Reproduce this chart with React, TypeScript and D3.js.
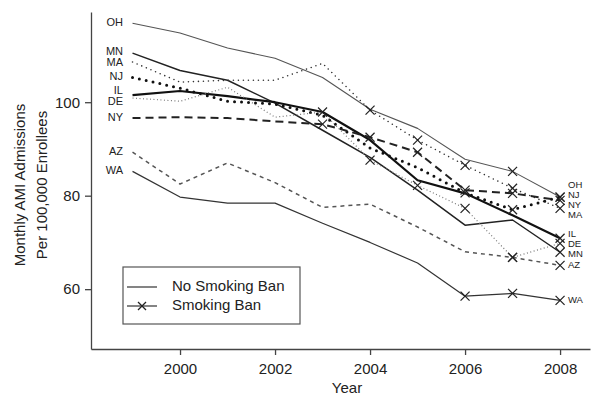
import React, { useEffect, useRef } from "react";
import * as d3 from "d3";

const width = 594;
const height = 397;
const margin = { top: 12, right: 4, bottom: 48, left: 91 };

const years = [1999, 2000, 2001, 2002, 2003, 2004, 2005, 2006, 2007, 2008];
const xTicks = [2000, 2002, 2004, 2006, 2008];
const yTicks = [60, 80, 100];

// monthly AMI admissions per 100,000 enrollees, one array per state
const OH = [116.9, 114.8, 111.6, 109.4, 105.3, 98.5, 94.4, 87.8, 85.2, 79.7];
const MN = [110.5, 106.8, 104.7, 99.8, 94.0, 88.2, 81.2, 73.7, 74.8, 67.9];
const MA = [108.6, 104.3, 104.7, 104.7, 108.3, 98.3, 91.9, 86.5, 81.6, 77.3];
const NJ = [105.3, 103.0, 100.2, 99.6, 97.2, 90.2, 86.0, 80.6, 77.0, 79.7];
const IL = [101.5, 102.4, 101.3, 100.0, 97.9, 91.9, 83.3, 80.5, 75.8, 70.9];
const DE = [100.9, 100.2, 103.2, 96.8, 97.9, 87.6, 82.2, 77.3, 66.8, 69.8];
const NY = [96.6, 96.8, 96.6, 95.9, 95.3, 92.5, 89.3, 81.2, 80.5, 79.0];
const AZ = [89.3, 82.5, 87.0, 82.8, 77.5, 78.2, 73.3, 68.0, 66.8, 65.1];
const WA = [85.2, 79.7, 78.4, 78.4, 74.1, 70.0, 65.6, 58.5, 59.1, 57.6];

// first year with a smoking ban in effect
const banYear = { OH: 2007, MN: 2008, MA: 2004, NJ: 2006, IL: 2008, DE: 2003, NY: 2003, AZ: 2007, WA: 2006 };

const series = [
  { name: "OH", values: OH, stroke: "#555", width: 1.1, dash: null, cap: "butt" },
  { name: "MN", values: MN, stroke: "#222", width: 1.5, dash: null, cap: "butt" },
  { name: "MA", values: MA, stroke: "#333", width: 1.6, dash: "0 5", cap: "round" },
  { name: "NJ", values: NJ, stroke: "#111", width: 3, dash: "0 7", cap: "round" },
  { name: "IL", values: IL, stroke: "#111", width: 2.2, dash: null, cap: "butt" },
  { name: "DE", values: DE, stroke: "#777", width: 1.2, dash: "1 2.5", cap: "butt" },
  { name: "NY", values: NY, stroke: "#222", width: 2, dash: "8 5", cap: "butt" },
  { name: "AZ", values: AZ, stroke: "#555", width: 1.5, dash: "4 4", cap: "butt" },
  { name: "WA", values: WA, stroke: "#333", width: 1.2, dash: null, cap: "butt" },
];

const x = d3
  .scaleLinear()
  .domain([1998.126, 2008.63])
  .range([margin.left, width - margin.right]);
const y = d3
  .scaleLinear()
  .domain([47.2, 119.3])
  .range([height - margin.bottom, margin.top]);

const line = d3
  .line<number>()
  .x((d, i) => x(years[i]))
  .y((d) => y(d));

// push overlapping labels apart
function dodge(ys: number[], gap: number) {
  const order = ys.map((v, i) => i).sort((a, b) => ys[a] - ys[b]);
  const out = ys.slice();
  for (let k = 0; k < 200; k++) {
    for (let j = 1; j < order.length; j++) {
      const a = order[j - 1];
      const b = order[j];
      const diff = out[b] - out[a];
      if (diff < gap) {
        const push = (gap - diff) / 2;
        out[a] -= push;
        out[b] += push;
      }
    }
  }
  return out;
}

const font = "'Liberation Sans', Arial, Helvetica, sans-serif";

function Cross({ cx, cy, r = 4.5, stroke = "#222", sw = 1.2 }) {
  return (
    <g stroke={stroke} strokeWidth={sw}>
      <line x1={cx - r} y1={cy - r} x2={cx + r} y2={cy + r} />
      <line x1={cx - r} y1={cy + r} x2={cx + r} y2={cy - r} />
    </g>
  );
}

export default function App() {
  const xAxisRef = useRef<SVGGElement>(null);
  const yAxisRef = useRef<SVGGElement>(null);

  useEffect(() => {
    const xAxis = d3
      .axisBottom(x)
      .tickValues(xTicks)
      .tickFormat(d3.format("d"))
      .tickSize(6)
      .tickSizeOuter(0)
      .tickPadding(8);
    const yAxis = d3
      .axisLeft(y)
      .tickValues(yTicks)
      .tickSize(6)
      .tickSizeOuter(0)
      .tickPadding(5);
    const gx = d3.select(xAxisRef.current).call(xAxis);
    const gy = d3.select(yAxisRef.current).call(yAxis);
    [gx, gy].forEach((g) => {
      g.selectAll("path, line").attr("stroke", "#444").attr("stroke-width", 1.3);
      g.selectAll("text")
        .attr("fill", "#222")
        .style("font-family", font)
        .style("font-size", "15px");
    });
  }, []);

  const leftY = dodge(series.map((s) => y(s.values[0])), 11);
  const rightY = dodge(series.map((s) => y(s.values[s.values.length - 1])), 10);

  return (
    <svg
      width={width}
      height={height}
      style={{ position: "absolute", left: 0, top: 0, background: "#fff" }}
    >
      {series.map((s) => (
        <path
          key={s.name}
          d={line(s.values) || ""}
          fill="none"
          stroke={s.stroke}
          strokeWidth={s.width}
          strokeDasharray={s.dash || undefined}
          strokeLinecap={s.cap as any}
          strokeLinejoin="round"
        />
      ))}
      {series.map((s) =>
        s.values.map((v, i) =>
          years[i] >= banYear[s.name] ? (
            <Cross key={s.name + i} cx={x(years[i])} cy={y(v)} />
          ) : null
        )
      )}

      {series.map((s, i) => (
        <text
          key={"l" + s.name}
          x={123}
          y={leftY[i]}
          textAnchor="end"
          dominantBaseline="middle"
          fontFamily={font}
          fontSize={11}
          fill="#222"
        >
          {s.name}
        </text>
      ))}
      {series.map((s, i) => (
        <text
          key={"r" + s.name}
          x={568}
          y={rightY[i]}
          dominantBaseline="middle"
          fontFamily={font}
          fontSize={9.5}
          fill="#222"
        >
          {s.name}
        </text>
      ))}

      <g ref={xAxisRef} transform={`translate(0, ${height - margin.bottom})`} />
      <g ref={yAxisRef} transform={`translate(${margin.left}, 0)`} />

      <text
        x={347}
        y={393}
        textAnchor="middle"
        fontFamily={font}
        fontSize={15}
        fill="#222"
      >
        Year
      </text>
      <g transform="translate(0, 185) rotate(-90)" fontFamily={font} fontSize={15} fill="#222">
        <text x={0} y={25} textAnchor="middle">
          Monthly AMI Admissions
        </text>
        <text x={0} y={47} textAnchor="middle">
          Per 100,000 Enrollees
        </text>
      </g>

      <g>
        <rect x={123} y={267} width={177} height={57} fill="#fff" stroke="#555" strokeWidth={1.2} />
        <line x1={127} x2={157} y1={287} y2={287} stroke="#333" strokeWidth={1.2} />
        <line x1={127} x2={157} y1={306} y2={306} stroke="#333" strokeWidth={1.2} />
        <Cross cx={142} cy={306} r={4} />
        <text x={172} y={287} dominantBaseline="middle" fontFamily={font} fontSize={15} fill="#222">
          No Smoking Ban
        </text>
        <text x={172} y={306} dominantBaseline="middle" fontFamily={font} fontSize={15} fill="#222">
          Smoking Ban
        </text>
      </g>
    </svg>
  );
}
